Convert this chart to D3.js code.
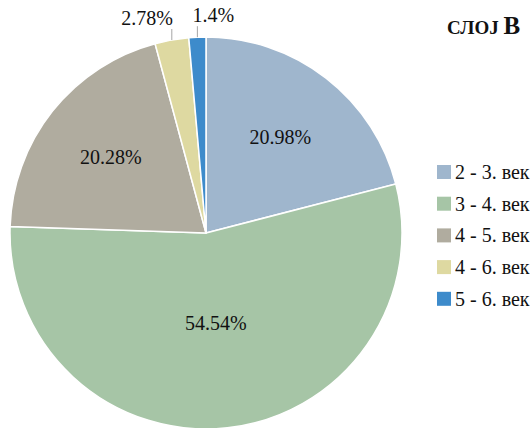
<!DOCTYPE html>
<html>
<head>
<meta charset="utf-8">
<script src="https://cdn.jsdelivr.net/npm/d3@7/dist/d3.min.js"></script>
<style>
  html, body { margin: 0; padding: 0; background: #fff; }
  svg { display: block; }
</style>
</head>
<body>
<svg id="chart" width="532" height="428"></svg>
<script>
// Share of finds by period, layer В
const categories = ["2 - 3. век", "3 - 4. век", "4 - 5. век", "4 - 6. век", "5 - 6. век"];
const values = [20.98, 54.54, 20.28, 2.78, 1.4];
const labels = ["20.98%", "54.54%", "20.28%", "2.78%", "1.4%"];
const colors = ["#9fb6cd", "#a6c5a6", "#b0ac9f", "#ded9a1", "#3d8bcb"];

const FONT = "'Liberation Serif', Tinos, 'Times New Roman', 'DejaVu Serif', serif";

const svg = d3.select("#chart")
  .attr("font-family", FONT)
  .style("font-family", FONT);
const cx = 206, cy = 233, R = 196;

const pie = d3.pie().sort(null).value(d => d);
const arcs = pie(values);
const arc = d3.arc().innerRadius(0).outerRadius(R);

const g = svg.append("g").attr("transform", `translate(${cx},${cy})`);

g.selectAll("path.slice")
  .data(arcs)
  .enter().append("path")
  .attr("class", "slice")
  .attr("d", arc)
  .attr("fill", (d, i) => colors[i])
  .attr("stroke", "#fff")
  .attr("stroke-width", 1.5)
  .attr("stroke-linejoin", "round");

// Labels inside the three large slices
const insideFactor = [0.62, 0.46, 0.62];
arcs.slice(0, 3).forEach((d, i) => {
  const a = (d.startAngle + d.endAngle) / 2;
  const r = R * insideFactor[i];
  g.append("text")
    .attr("x", r * Math.sin(a))
    .attr("y", -r * Math.cos(a))
    .attr("dy", "0.35em")
    .attr("text-anchor", "middle")
    .attr("font-size", 20)
    .attr("fill", "#111")
    .text(labels[i]);
});

// Outside labels with short leader lines for the two thin slices
const outside = [
  { i: 3, anchor: "end", dx: 1 },
  { i: 4, anchor: "start", dx: -5 }
];
outside.forEach(o => {
  const d = arcs[o.i];
  const a = (d.startAngle + d.endAngle) / 2;
  const x = R * Math.sin(a);
  const y = -R * Math.cos(a);
  g.append("line")
    .attr("x1", x).attr("y1", y)
    .attr("x2", x).attr("y2", y - 11)
    .attr("stroke", "#a6a6a6")
    .attr("stroke-width", 1);
  g.append("text")
    .attr("x", x + o.dx)
    .attr("y", y - 15)
    .attr("text-anchor", o.anchor)
    .attr("font-size", 20)
    .attr("fill", "#111")
    .text(labels[o.i]);
});

// Title
const title = svg.append("text")
  .attr("x", 447)
  .attr("y", 34)
  .attr("font-weight", "bold")
  .attr("fill", "#111");
title.append("tspan").attr("font-size", 19).text("СЛОЈ ");
title.append("tspan").attr("font-size", 25).text("В");

// Legend
const legend = svg.append("g").attr("transform", "translate(437,172)");
const item = legend.selectAll("g.item")
  .data(categories)
  .enter().append("g")
  .attr("class", "item")
  .attr("transform", (d, i) => `translate(0,${i * 31.7})`);
item.append("rect")
  .attr("x", 0).attr("y", -7)
  .attr("width", 14).attr("height", 14)
  .attr("fill", (d, i) => colors[i]);
item.append("text")
  .attr("x", 18)
  .attr("y", 0)
  .attr("dy", "0.35em")
  .attr("font-size", 20)
  .attr("fill", "#111")
  .text(d => d);
</script>
</body>
</html>
